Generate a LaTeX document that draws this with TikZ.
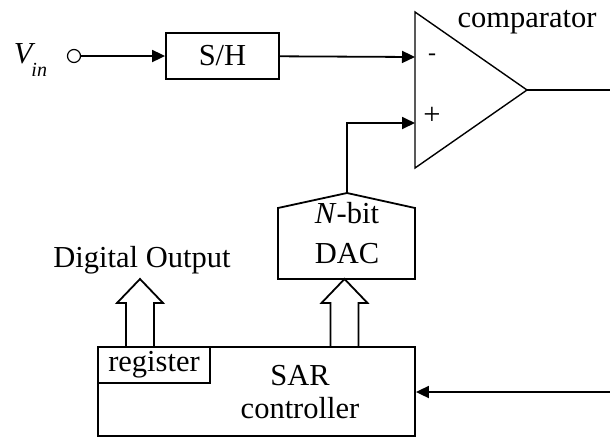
\documentclass[tikz,border=0pt]{standalone}
\usepackage{fontspec}
\setmainfont{Liberation Serif}
\usetikzlibrary{arrows.meta}

\newcommand{\busup}[1]{\draw[bus] #1 ++(-14,68) -- ++(0,-44) -- ++(-9,0) -- ++(23,-24) -- ++(23,24) -- ++(-9,0) -- ++(0,44);}

\begin{document}
\begin{tikzpicture}[x=1pt, y=-1pt, line width=1.8pt,
	every node/.style={font=\fontsize{30.5}{33}\selectfont, inner sep=0pt},
	lbl/.style={anchor=base},
	blk/.style={draw, line width=1.8pt},
	sig/.style={-{Triangle[length=13pt, width=12pt]}},
	bus/.style={line width=1.8pt, line join=miter}]
	\useasboundingbox (0,0) rectangle (610,437);
	\node[circle, draw, line width=1.2pt, minimum size=13pt] (vin) at (74,56) {};
	\node[anchor=base west] (vinlbl) at (13,63) {\textit{V}\kern-4pt\raisebox{-13pt}{\fontsize{20}{22}\selectfont\textit{in}}};
	\node[blk, minimum width=113pt, minimum height=46pt] (sh) at (222.5,56) {S/H};
	\draw[blk, line width=1.4pt] (415,12) -- (527,90) -- (415,168) -- cycle;
	\coordinate (cmpm) at (415,57);
	\coordinate (cmpp) at (415,123);
	\coordinate (cmpo) at (527,90);
	\coordinate (outr) at (610,90);
	\node (minus) at (432,57) {\fontsize{24}{26}\selectfont -};
	\node (plus) at (432,116) {+};
	\node[lbl] (cmplbl) at (527,27) {comparator};
	\draw[blk] (278,279) -- (278,208) -- (347,193) -- (415,208) -- (415,279) -- cycle;
	\coordinate (dactop) at (347,193);
	\node[lbl] (dacn) at (347,223) {\textit{N}-bit};
	\node[lbl] (daclbl) at (347,263) {DAC};
	\node[blk, minimum width=317pt, minimum height=89pt] (sar) at (256.5,391.5) {};
	\node[blk, minimum width=112pt, minimum height=36pt, anchor=north west] (reg) at (sar.north west) {register};
	\node[lbl] (sarlbl) at (300,385) {SAR};
	\node[lbl] (ctllbl) at (300,418) {controller};
	\node[lbl] (dout) at (142,267) {Digital Output};
	\coordinate (dotip) at (140,279);
	\coordinate (dactip) at (344.5,279);
	\coordinate (fb) at (610,392);
	\draw[sig] (vin) -- (sh);
	\draw[sig] (sh) -- (cmpm);
	\draw[sig] (dactop) |- (cmpp);
	\draw (cmpo) -- (outr);
	\draw[sig] (fb) -- (fb -| sar.east);
	\busup{(dotip)}
	\busup{(dactip)}
\end{tikzpicture}
\end{document}
